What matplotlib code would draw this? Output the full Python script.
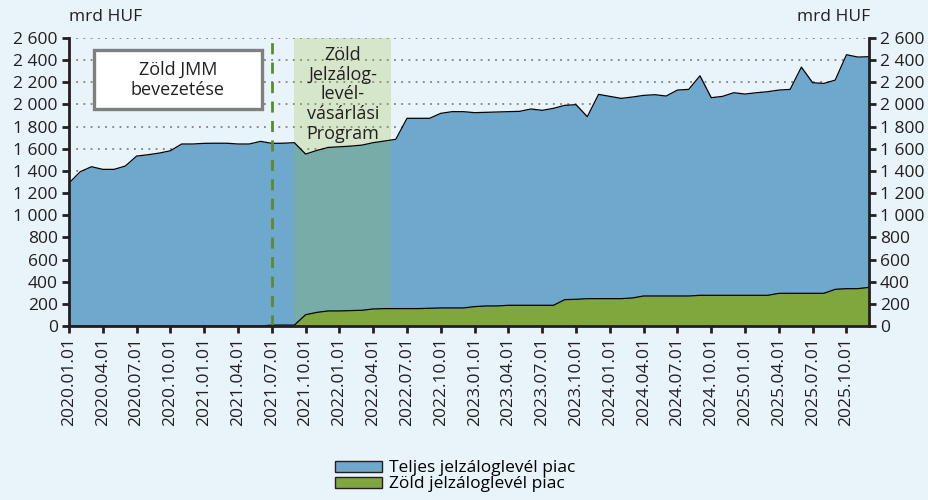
import numpy as np
import pandas as pd
import matplotlib.pyplot as plt
from matplotlib.patches import Rectangle, Patch

plt.rcParams['font.family'] = ['Open Sans', 'DejaVu Sans']

dates = pd.date_range('2020-01-01', periods=72, freq='MS')

total = [
    1290, 1393, 1438, 1414, 1414, 1444, 1534, 1546, 1561, 1582, 1643, 1643,
    1649, 1650, 1650, 1643, 1643, 1667, 1649, 1650, 1655, 1552, 1585, 1612,
    1618, 1624, 1633, 1655, 1670, 1685, 1875, 1875, 1875, 1920, 1935, 1935,
    1926, 1929, 1932, 1935, 1938, 1959, 1947, 1965, 1992, 1998, 1890, 2091,
    2073, 2055, 2067, 2082, 2088, 2076, 2130, 2136, 2259, 2061, 2073, 2106,
    2094, 2106, 2115, 2130, 2136, 2337, 2196, 2190, 2220, 2449, 2428, 2431,
]
green = [
    0, 0, 0, 0, 0, 0, 0, 0, 0, 0, 0, 0,
    0, 0, 0, 0, 0, 0, 8, 8, 8, 102, 123, 136,
    136, 139, 142, 154, 157, 157, 157, 157, 160, 163, 163, 163,
    175, 181, 181, 187, 187, 187, 187, 187, 238, 241, 247, 247,
    247, 247, 253, 271, 271, 271, 271, 271, 277, 277, 277, 277,
    277, 277, 277, 295, 295, 295, 295, 295, 331, 337, 337, 349,
]

labels = ['Teljes jelzáloglevél piac', 'Zöld jelzáloglevél piac']
y_ticks = list(range(0, 2601, 200))

jmm_index = 18          # 2021.07
program_span = (20, 28.6)

BG = '#e8f3fa'
BLUE = '#6fa8cd'
GREEN = '#7fa73d'
TEXT = '#231f20'

x = np.arange(len(dates))

fig = plt.figure(figsize=(9.29, 5.0), dpi=100, facecolor=BG)
ax = fig.add_axes([69 / 929, 1 - 326 / 500, 800 / 929, 288 / 500], facecolor=BG)

# grid
for v in y_ticks[1:]:
    ax.axhline(v, color='#808080', lw=1.3, ls=(0, (1, 3)), zorder=0)

ax.fill_between(x, 0, total, color=BLUE, lw=0, zorder=1)
ax.plot(x, total, color='black', lw=0.9, zorder=4)

ax.axvspan(*program_span, color='#9abb33', alpha=0.23, lw=0, zorder=2)

ax.fill_between(x, 0, green, color=GREEN, lw=0, zorder=3)
ax.plot(x, green, color='black', lw=0.9, zorder=4)

ax.axvline(jmm_index, color='#5a8c2c', lw=2.0, ls=(0, (4, 3)), zorder=5)

# annotation box
ax.add_patch(Rectangle((2.2, 1960), 14.9, 530, facecolor='white',
                       edgecolor='#7f7f7f', lw=2.4, zorder=6))
ax.text(9.65, 2225, 'Zöld JMM\nbevezetése', ha='center', va='center',
        fontsize=13, color=TEXT, zorder=7, linespacing=1.15)
ax.text(24.3, 2090, 'Zöld\nJelzálog-\nlevél-\nvásárlási\nProgram', ha='center',
        va='center', fontsize=13, color=TEXT, zorder=7, linespacing=1.13)

ax.set_xlim(0, 71)
ax.set_ylim(0, 2600)
ax.set_xticks(x[::3])
ax.set_xticklabels([d.strftime('%Y.%m.%d') for d in dates[::3]], rotation=90,
                   fontsize=12.5, color=TEXT)
ax.set_yticks(y_ticks)
ytl = [f'{v:,}'.replace(',', ' ') for v in y_ticks]
ax.set_yticklabels(ytl, fontsize=12.5, color=TEXT)
ax.tick_params(axis='both', direction='out', length=5, width=2, color='#231f20', pad=3)
ax.tick_params(axis='y', left=True, right=True, labelleft=True, labelright=True)

ax.spines['top'].set_visible(False)
for side in ['left', 'right', 'bottom']:
    ax.spines[side].set_linewidth(2)
    ax.spines[side].set_color('#231f20')
    ax.spines[side].set_zorder(8)

fig.text(69 / 929, 1 - 17 / 500, 'mrd HUF', ha='left', va='center', fontsize=12.5, color=TEXT)
fig.text(870 / 929, 1 - 17 / 500, 'mrd HUF', ha='right', va='center', fontsize=12.5, color=TEXT)

handles = [Patch(facecolor=BLUE, edgecolor='#231f20', lw=1),
           Patch(facecolor=GREEN, edgecolor='#231f20', lw=1)]
fig.legend(handles, labels, loc='center', bbox_to_anchor=(0.49, 0.047), frameon=False,
           fontsize=12.5, handlelength=2.7, handleheight=0.55, handletextpad=0.45,
           labelspacing=0.0, borderpad=0)

fig.savefig('out.png', dpi=100, facecolor=BG)
